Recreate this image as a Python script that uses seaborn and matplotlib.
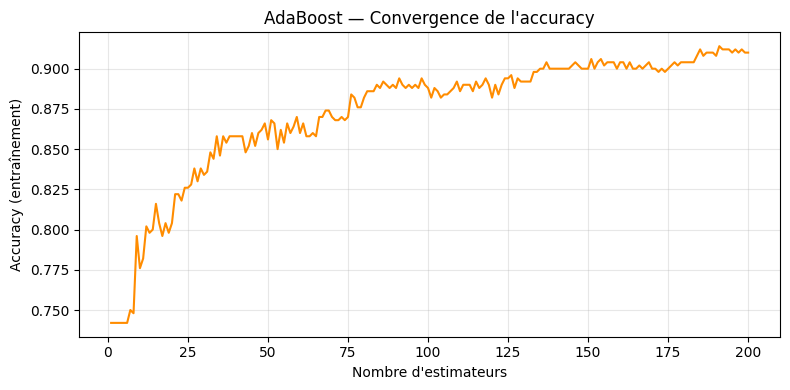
import numpy as np
import pandas as pd
import matplotlib
matplotlib.use("Agg")
import matplotlib.pyplot as plt
import seaborn as sns

n_estimators = list(range(1, 201))
accuracy = [
    0.742, 0.742, 0.742, 0.742, 0.742, 0.742, 0.750, 0.748, 0.796, 0.776,
    0.782, 0.802, 0.798, 0.800, 0.816, 0.804, 0.796, 0.804, 0.798, 0.804,
    0.822, 0.822, 0.818, 0.826, 0.826, 0.828, 0.838, 0.830, 0.838, 0.834,
    0.836, 0.848, 0.844, 0.858, 0.846, 0.858, 0.854, 0.858, 0.858, 0.858,
    0.858, 0.858, 0.848, 0.852, 0.860, 0.852, 0.860, 0.862, 0.866, 0.856,
    0.868, 0.866, 0.850, 0.862, 0.854, 0.866, 0.860, 0.864, 0.870, 0.860,
    0.866, 0.858, 0.858, 0.860, 0.858, 0.870, 0.870, 0.874, 0.874, 0.870,
    0.868, 0.868, 0.870, 0.868, 0.870, 0.884, 0.882, 0.876, 0.876, 0.882,
    0.886, 0.886, 0.886, 0.890, 0.888, 0.892, 0.890, 0.888, 0.890, 0.888,
    0.894, 0.890, 0.888, 0.890, 0.888, 0.890, 0.888, 0.894, 0.890, 0.888,
    0.882, 0.888, 0.886, 0.882, 0.884, 0.884, 0.886, 0.888, 0.892, 0.886,
    0.890, 0.890, 0.890, 0.886, 0.892, 0.888, 0.890, 0.894, 0.890, 0.882,
    0.890, 0.884, 0.890, 0.894, 0.894, 0.896, 0.888, 0.894, 0.892, 0.892,
    0.892, 0.892, 0.898, 0.898, 0.900, 0.900, 0.904, 0.900, 0.900, 0.900,
    0.900, 0.900, 0.900, 0.900, 0.902, 0.904, 0.902, 0.900, 0.900, 0.900,
    0.906, 0.900, 0.904, 0.906, 0.902, 0.904, 0.904, 0.904, 0.900, 0.904,
    0.904, 0.900, 0.904, 0.900, 0.900, 0.902, 0.900, 0.902, 0.904, 0.900,
    0.900, 0.898, 0.900, 0.898, 0.900, 0.902, 0.904, 0.902, 0.904, 0.904,
    0.904, 0.904, 0.904, 0.908, 0.912, 0.908, 0.910, 0.910, 0.910, 0.908,
    0.914, 0.912, 0.912, 0.912, 0.910, 0.912, 0.910, 0.912, 0.910, 0.910,
]

title = "AdaBoost \u2014 Convergence de l'accuracy"
xlabel = "Nombre d'estimateurs"
ylabel = "Accuracy (entra\u00eenement)"

df = pd.DataFrame({"n": n_estimators, "acc": accuracy})

fig, ax = plt.subplots(figsize=(8, 4), dpi=100)
sns.lineplot(data=df, x="n", y="acc", color="darkorange", linewidth=1.5, ax=ax)
ax.set_title(title)
ax.set_xlabel(xlabel)
ax.set_ylabel(ylabel)
ax.grid(True, alpha=0.3)
ax.yaxis.set_major_formatter(matplotlib.ticker.FormatStrFormatter("%.3f"))
fig.tight_layout()
fig.savefig("out.png", dpi=100, bbox_inches="tight")
